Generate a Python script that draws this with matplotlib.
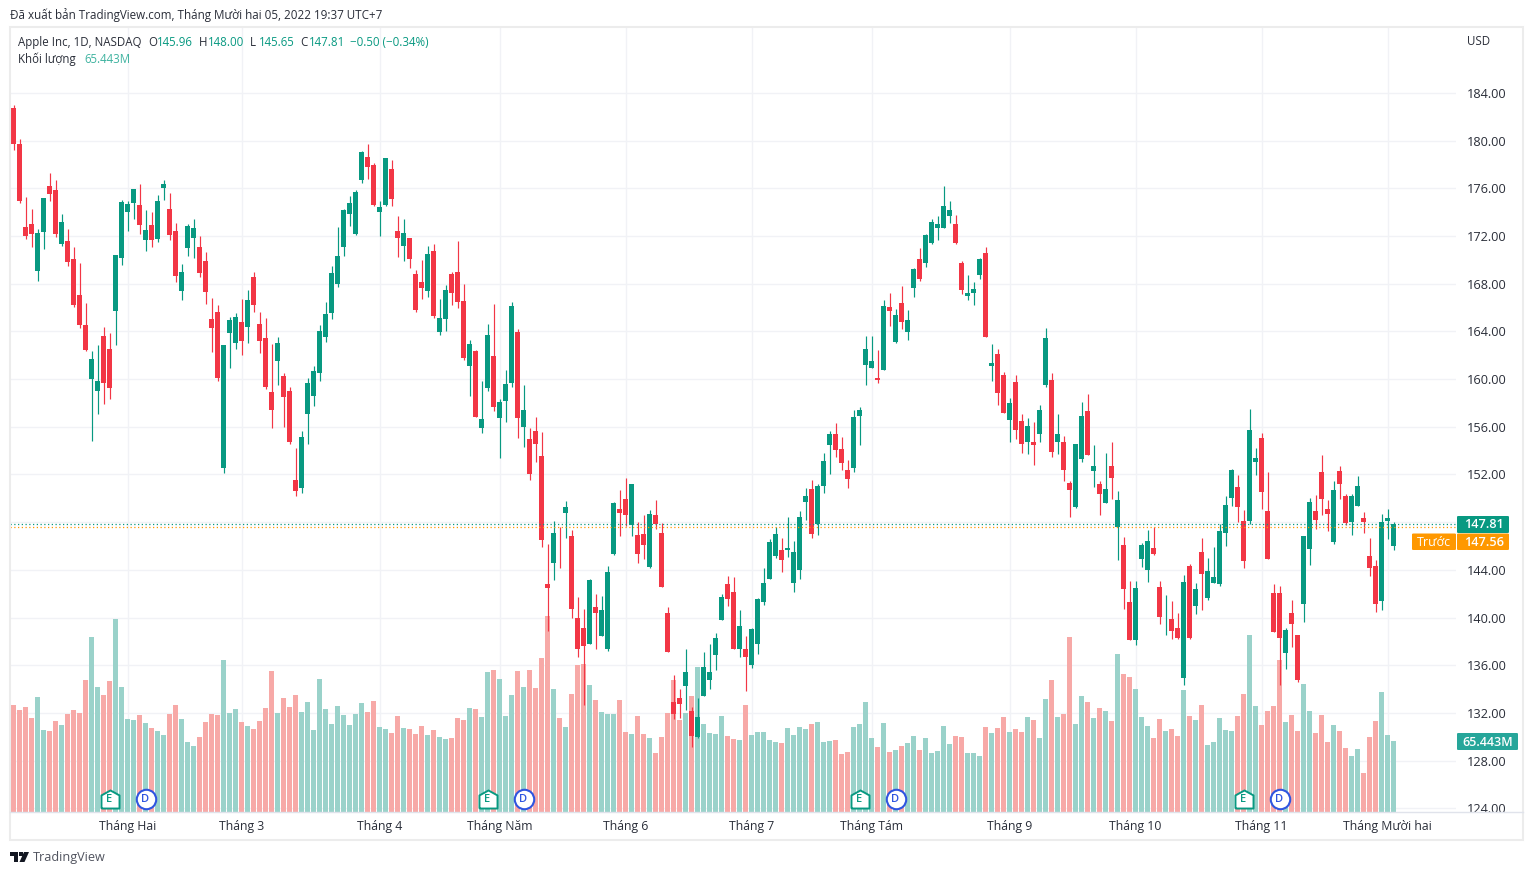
import matplotlib
matplotlib.use('Agg')
import matplotlib.pyplot as plt
from matplotlib.patches import Rectangle, Polygon, FancyBboxPatch
from matplotlib.path import Path
from matplotlib.transforms import blended_transform_factory
import numpy as np

plt.rcParams['font.family'] = ['Open Sans', 'Noto Sans', 'DejaVu Sans']

# AAPL daily candles
opens = [182.69,179.67,172.72,172.97,169.06,172.32,176.15,175.82,171.32,171.54,
170.03,167.02,164.5,160.0,158.97,163.58,162.49,165.7,170.15,174.0,
174.75,174.56,171.65,172.88,171.74,175.98,174.22,172.38,167.38,170.98,
171.82,171.04,169.87,165.0,165.59,152.55,163.86,163.0,164.75,164.33,
168.53,164.59,163.41,158.89,161.49,160.23,158.97,151.51,150.82,157.04,
158.55,160.48,163.5,165.51,167.94,171.05,173.82,172.14,176.67,178.6,
177.93,173.99,174.57,177.59,172.39,171.13,171.8,168.78,168.11,167.36,
170.71,163.92,165.01,168.78,168.95,166.52,161.06,162.32,155.86,159.22,
161.9,156.7,158.13,159.64,163.92,155.94,154.94,155.61,153.51,142.85,
144.53,145.6,148.8,146.87,139.92,139.16,137.74,140.84,138.41,137.32,
145.36,149.13,149.97,147.79,146.96,147.04,144.27,148.63,147.12,140.34,
132.88,133.21,134.22,132.12,129.94,133.38,134.72,136.82,139.83,142.77,
142.18,137.4,137.32,135.98,137.74,141.34,143.27,145.2,145.7,145.7,
142.93,144.02,149.72,150.81,147.88,151.06,154.43,155.43,154.09,152.33,
152.5,156.94,161.21,160.96,160.12,160.79,166.06,163.13,166.4,163.97,
167.66,170.08,169.75,171.42,172.68,172.68,173.68,173.01,169.75,166.99,
167.24,168.74,170.59,161.12,162.13,160.37,156.6,159.78,156.51,154.76,
154.68,155.43,159.53,159.95,154.76,154.68,151.24,149.24,153.32,157.34,
152.31,151.22,149.63,152.73,147.62,146.11,141.33,138.14,144.94,144.01,
145.86,142.59,140.35,139.9,139.15,134.96,144.35,141.0,145.52,141.67,
142.92,142.84,147.12,150.05,150.97,148.12,148.12,153.07,155.08,148.96,
142.08,142.08,137.05,140.41,138.56,141.16,145.77,148.96,152.19,149.11,
146.36,152.28,150.19,148.03,149.36,148.36,145.19,144.36,141.36,148.11,
145.96]

highs = [182.94,180.15,175.28,174.22,172.55,175.2,177.24,176.65,173.8,172.55,
171.09,169.7,166.35,162.32,162.83,164.39,163.89,170.37,175.03,174.92,
175.9,176.32,174.14,173.97,175.4,176.65,175.56,173.11,169.61,172.97,
173.39,171.96,170.62,166.77,166.18,162.85,165.17,165.5,166.68,167.44,
168.94,165.59,165.09,162.91,163.5,160.48,159.31,154.2,155.61,160.06,
161.06,164.5,166.43,169.45,172.73,174.24,175.33,175.83,179.1,179.69,
178.1,174.91,178.52,178.35,173.65,173.4,171.8,169.12,169.96,171.13,
171.3,166.69,167.86,168.95,171.55,167.94,163.24,162.4,159.8,164.59,
166.27,158.29,160.73,166.49,164.17,159.47,155.86,156.78,155.52,146.17,
148.1,147.6,149.8,147.37,141.68,140.75,143.26,142.01,141.84,144.36,
149.72,150.73,151.73,151.23,148.04,148.63,149.05,149.89,147.96,140.84,
135.22,133.97,137.4,132.46,133.21,137.07,137.82,138.66,141.93,143.52,
143.43,140.67,138.41,139.08,141.65,144.19,146.62,147.63,146.7,148.46,
146.45,148.97,150.89,151.56,151.23,153.76,155.6,156.35,155.1,153.17,
157.36,157.69,163.64,163.64,162.46,166.65,167.24,165.9,167.82,165.81,
169.33,171.0,172.18,173.43,173.68,176.2,174.94,173.77,169.92,168.74,
168.16,170.17,171.09,162.97,162.55,160.62,158.44,160.37,157.1,156.69,
156.43,157.85,164.31,160.54,157.1,155.26,151.41,154.59,158.1,158.77,
154.49,151.48,153.82,154.75,150.64,146.78,143.09,143.09,146.25,147.37,
147.62,143.09,141.92,141.41,140.41,143.59,144.52,142.92,146.7,145.02,
145.94,147.87,150.22,152.48,151.98,149.04,157.51,154.24,155.5,152.23,
142.84,142.67,139.15,141.5,138.56,146.86,150.03,150.3,153.61,149.86,
151.44,152.69,150.36,150.36,151.86,148.86,146.69,144.86,148.69,149.11,
148.0]

lows = [179.17,174.75,171.71,171.04,168.19,170.87,174.92,171.91,171.15,169.47,
166.04,164.28,162.35,154.81,157.04,157.88,158.3,162.83,169.56,172.41,
173.39,172.13,170.7,171.04,171.46,174.98,171.63,168.11,166.6,170.31,
170.12,168.53,166.26,162.24,159.84,152.1,160.9,162.49,161.99,163.0,
165.59,162.16,159.14,155.87,159.47,156.01,154.53,150.2,150.43,154.52,
157.71,159.8,163.08,165.01,167.69,170.29,172.81,172.06,176.42,176.76,
174.49,171.97,174.49,174.49,170.21,169.87,169.29,165.59,166.69,166.85,
165.09,163.66,164.0,166.18,165.93,161.57,158.55,156.78,155.44,158.97,
157.29,153.34,156.36,159.3,155.02,154.27,151.49,153.01,145.88,138.83,
143.18,144.19,146.7,139.92,136.65,132.63,137.74,137.4,138.41,137.15,
145.28,146.87,147.71,146.87,144.53,144.94,144.11,147.46,142.6,137.07,
131.45,131.54,132.21,129.11,129.86,133.38,133.97,135.64,139.83,141.0,
137.4,136.73,133.8,135.73,136.98,141.09,143.27,145.03,143.85,145.11,
142.18,143.27,148.21,146.7,146.96,150.41,152.0,153.42,152.33,150.83,
152.17,154.43,159.53,160.9,159.7,160.79,164.47,163.05,164.22,163.3,
166.9,168.24,169.41,171.34,171.67,172.68,173.1,171.34,167.15,166.65,
166.23,168.41,163.55,159.87,157.78,157.19,154.68,155.01,153.76,153.67,
152.75,154.76,159.37,153.42,153.67,151.41,148.4,149.15,153.07,153.66,
150.97,148.62,149.63,149.97,144.85,140.74,138.14,137.72,144.26,143.01,
145.27,139.49,138.56,138.23,138.23,134.37,138.23,140.32,140.66,141.5,
142.92,142.67,146.03,149.38,148.04,144.18,147.87,151.98,149.13,144.94,
138.81,134.37,135.71,137.56,134.62,139.6,144.44,147.45,148.61,147.28,
146.19,149.94,147.78,146.94,149.36,147.11,143.44,140.44,140.61,146.61,
145.65]

closes = [179.67,174.92,171.99,172.16,172.21,175.15,175.51,172.16,173.13,169.81,
166.18,164.5,162.41,161.65,159.81,159.67,159.25,170.37,174.81,174.64,
175.9,172.91,172.46,171.65,174.89,176.32,172.07,168.64,168.94,172.8,
172.63,168.89,167.3,164.25,160.09,162.83,164.92,165.17,163.16,166.6,
166.18,163.16,159.31,157.38,163.0,158.47,154.7,150.59,155.1,159.64,
160.64,164.0,165.43,168.87,170.29,174.15,174.74,175.66,179.02,177.76,
174.57,174.41,178.52,175.08,171.8,172.22,170.04,165.76,167.61,170.46,
165.26,165.09,167.44,167.19,166.43,161.73,162.91,156.78,156.62,163.66,
157.62,158.04,159.55,166.1,156.7,157.37,152.0,154.52,146.46,142.51,
147.12,145.56,149.3,140.75,137.32,137.6,143.18,140.34,140.59,143.85,
149.64,148.8,148.63,151.23,145.36,146.12,148.72,147.88,142.6,137.07,
131.87,132.71,135.47,130.03,131.62,135.89,135.39,138.32,141.68,141.59,
137.4,139.25,136.65,139.0,141.59,142.93,146.37,147.04,144.86,145.84,
145.53,148.46,150.22,147.04,151.06,153.09,155.43,154.01,152.92,151.58,
156.85,157.36,162.55,161.54,159.95,166.15,165.73,165.39,164.81,164.98,
169.25,168.41,172.09,173.18,173.01,174.52,174.19,171.42,167.49,167.24,
167.57,170.08,163.55,161.38,158.86,157.19,158.03,155.76,154.51,156.02,
154.43,157.44,163.47,153.84,155.35,152.33,150.66,154.51,156.93,153.66,
152.73,150.39,150.8,151.73,149.88,142.42,138.14,142.5,146.11,146.44,
145.36,140.07,140.41,138.9,138.31,143.01,138.31,142.42,143.68,143.93,
143.43,147.28,149.46,152.4,149.3,144.77,155.75,153.4,150.55,144.94,
138.81,138.31,138.98,139.49,134.79,146.86,149.69,148.2,149.94,148.69,
150.69,151.19,147.94,150.19,151.03,148.03,144.19,141.11,148.03,148.36,
147.81]

# volume in millions
volumes = [98.9,94.3,97.1,86.9,106.3,75.9,75.0,84.2,80.5,90.6,
94.3,91.5,122.0,161.6,115.5,108.1,121.0,178.2,115.5,86.0,
85.1,89.7,82.3,77.7,75.0,71.3,90.6,98.9,86.0,64.8,
61.1,69.4,83.3,90.6,89.7,140.4,91.5,95.2,83.3,79.6,
76.8,84.2,96.2,130.3,91.5,105.4,97.1,108.1,92.5,101.7,
75.9,122.9,95.2,81.4,98.0,89.7,80.5,90.6,100.8,92.5,
102.6,78.6,76.8,73.1,88.8,77.7,76.8,72.2,79.6,71.3,
75.9,69.4,67.6,68.5,86.9,85.1,96.2,95.2,87.9,129.3,
131.2,122.9,88.8,108.1,130.3,115.5,131.2,114.6,142.2,180.9,
113.7,86.9,78.6,109.1,135.8,136.7,117.4,103.5,92.5,90.6,
90.6,103.5,74.0,72.2,88.8,72.2,68.5,54.7,69.4,91.5,
122.0,85.1,91.5,107.2,133.9,81.4,73.1,72.2,88.8,70.3,
67.6,66.7,98.9,71.3,74.0,74.0,66.7,64.8,63.9,77.7,
71.3,78.6,76.8,81.4,83.3,64.8,65.7,66.7,53.8,55.6,
78.6,81.4,101.7,68.5,60.2,82.3,55.6,57.4,61.1,63.9,
70.3,57.4,68.5,54.7,56.5,79.6,63.0,70.3,69.4,54.7,
54.7,51.9,78.6,73.1,77.7,87.9,74.0,76.8,74.0,87.9,
85.1,68.5,104.4,122.0,87.9,90.6,161.6,81.4,107.2,101.7,
86.9,96.2,93.4,84.2,145.9,127.5,124.7,113.7,87.9,79.6,
68.5,86.0,75.0,76.8,70.3,112.7,88.8,85.1,98.9,62.1,
64.8,86.9,75.9,75.0,88.8,109.1,163.4,98.0,80.5,93.4,
98.0,140.4,83.3,89.7,75.0,118.3,93.4,73.1,89.7,64.8,
80.5,75.0,59.3,51.9,58.4,36.2,69.4,84.2,110.9,71.3,
65.443]

month_idx = [19, 38, 61, 81, 102, 123, 143, 166, 187, 208, 229]
month_labels = ['Tháng Hai', 'Tháng 3', 'Tháng 4', 'Tháng Năm', 'Tháng 6', 'Tháng 7',
                'Tháng Tám', 'Tháng 9', 'Tháng 10', 'Tháng 11', 'Tháng Mười hai']
price_ticks = [124, 128, 132, 136, 140, 144, 148, 152, 156, 160, 164, 168, 172, 176, 180, 184]
earnings_idx = [16, 79, 141, 205]
dividend_idx = [22, 85, 147, 211]
last_close = 147.81
prev_close = 147.56

GREEN = '#089981'
RED = '#F23645'
GRID = '#f1f2f6'
TEXT = '#2a2e39'
W, H = 1533, 875
BAR_W = 5 / 6  # 5 px body on a 6 px step


def fx(x):
    return x / W


def fy(y):
    return 1 - y / H


fig = plt.figure(figsize=(W / 100, H / 100), dpi=100, facecolor='white')
rect = [fx(10), fy(812), fx(1456) - fx(10), fy(27) - fy(812)]

ax = fig.add_axes(rect, zorder=1)
ax_vol = fig.add_axes(rect, zorder=2, sharex=ax)
ax_c = fig.add_axes(rect, zorder=3, sharex=ax)
ax_vol.patch.set_visible(False)
ax_c.patch.set_visible(False)

# candle 0 is centred on pixel column 13
ax.set_xlim(-3.5 / 6, 1442.5 / 6)
ax.set_ylim(123.69, 189.52)
ax_c.set_ylim(123.69, 189.52)
ax_vol.set_ylim(0, 723.5)

x = np.arange(len(opens))
opens_a = np.array(opens)
closes_a = np.array(closes)
up = closes_a >= opens_a
colors = np.where(up, GREEN, RED)

# volume
vol_colors = np.where(up, '#9AD2CA', '#F7A9A7')
ax_vol.bar(x, volumes, width=BAR_W, color=vol_colors, linewidth=0)

# candles
ax_c.vlines(x, lows, highs, colors=colors, linewidth=0.85)
body_bottom = np.minimum(opens_a, closes_a)
body_height = np.maximum(np.abs(closes_a - opens_a), 0.05)
ax_c.bar(x, body_height, bottom=body_bottom, width=BAR_W, color=colors, linewidth=0)

# last price and previous close lines
ax_c.axhline(last_close, color=GREEN, linewidth=0.9, linestyle=(0, (1, 2)), zorder=5)
ax_c.axhline(prev_close, color='#FF9800', linewidth=0.9, linestyle=(0, (1, 2)), zorder=5)

ax.set_yticks(price_ticks)
# 148.00 sits behind the last price badge
ax.set_yticklabels(['' if p == 148 else '%.2f' % p for p in price_ticks])
ax.yaxis.tick_right()
ax.set_xticks(month_idx)
ax.set_xticklabels(month_labels)
ax.tick_params(axis='both', length=0, labelcolor=TEXT)
ax.tick_params(axis='y', pad=7.9, labelsize=9.2)
ax.tick_params(axis='x', pad=6, labelsize=8.8)
ax.grid(True, color=GRID, linewidth=1)
ax.set_axisbelow(True)
for spine in ax.spines.values():
    spine.set_visible(False)

for a in (ax_vol, ax_c):
    a.axis('off')

# E / D event badges
tr = blended_transform_factory(ax_c.transData, ax_c.transAxes)
house = Path([(-1, -1), (1, -1), (1, 0.45), (0, 1), (-1, 0.45), (-1, -1)], closed=False)
badge_y = (812 - 799.3) / 785
for i in earnings_idx:
    ax_c.plot([i], [badge_y], transform=tr, marker=house, markersize=13, mfc='white',
              mec=GREEN, mew=1.4, clip_on=False, zorder=6)
    ax_c.text(i, badge_y, 'E', transform=tr, color=GREEN, fontsize=8, ha='center', va='center',
              zorder=7, fontweight='semibold')
for i in dividend_idx:
    ax_c.plot([i], [badge_y], transform=tr, marker='o', markersize=14, mfc='white',
              mec='#2F55E0', mew=1.5, clip_on=False, zorder=6)
    ax_c.text(i, badge_y, 'D', transform=tr, color='#2F55E0', fontsize=8, ha='center', va='center',
              zorder=7, fontweight='semibold')


# everything below sits in pixel positions on the figure
def ftext(px, py, s, color=TEXT, size=9, ha='left', **kw):
    fig.text(fx(px), fy(py), s, color=color, fontsize=size, ha=ha, va='center', zorder=20, **kw)


def box(x0, y0, x1, y1, color):
    fig.add_artist(FancyBboxPatch((fx(x0), fy(y1)), fx(x1) - fx(x0), fy(y0) - fy(y1),
                                  boxstyle='round,pad=0,rounding_size=0.001', transform=fig.transFigure,
                                  fc=color, ec='none', zorder=15))


# chart frame and time axis line
fig.add_artist(Rectangle((fx(10), fy(840)), fx(1523) - fx(10), fy(27) - fy(840), transform=fig.transFigure,
                         fc='none', ec='#ececec', lw=1.5, zorder=10))
fig.add_artist(plt.Line2D([fx(10), fx(1523)], [fy(812), fy(812)], color='#e0e3eb', lw=1, zorder=10))

ftext(10, 15, 'Đã xuất bản TradingView.com, Tháng Mười hai 05, 2022 19:37 UTC+7', size=8.35)
ftext(18, 42.5, 'Apple Inc, 1D, NASDAQ', size=8.3)
for px, label, val in [(148, 'O', '145.96'), (199, 'H', '148.00'), (250, 'L', '145.65'), (300, 'C', '147.81')]:
    ftext(px, 42.5, label, size=8.3)
    ftext(px + 9, 42.5, val, color=GREEN, size=8.3)
ftext(350, 42.5, '−0.50 (−0.34%)', color=GREEN, size=8.3)
ftext(18, 59.5, 'Khối lượng', size=8.3)
ftext(84, 59.5, '65.443M', color='#3FB3A0', size=8.3)
ftext(1467, 41.5, 'USD', size=8.3)

box(1457, 516, 1509, 533, GREEN)
ftext(1484, 525, '147.81', color='white', ha='center', fontweight='semibold', size=9.2)
box(1412, 533.5, 1456, 550, '#FF9800')
ftext(1434, 542.5, 'Trước', color='white', ha='center')
box(1457, 533.5, 1509, 550, '#FF9800')
ftext(1484, 542, '147.56', color='white', ha='center', fontweight='semibold', size=9.2)
box(1457, 733, 1518, 750, '#26A69A')
ftext(1488, 742, '65.443M', color='white', ha='center', fontweight='semibold')

# TradingView logo
logo = '#131722'
pts = [[(10, 852), (18, 852), (18, 862), (14, 862), (14, 856), (10, 856)],
       [(24, 852), (29, 852), (24.5, 862), (19.5, 862)],
       [(19, 852), (22.5, 852), (22.5, 856), (19, 856)]]
for p in pts:
    fig.add_artist(Polygon([(fx(a), fy(b)) for a, b in p], closed=True, transform=fig.transFigure,
                           fc=logo, ec='none', zorder=15))
ftext(33, 858, 'TradingView', color='#50535e', size=9.1)

fig.savefig('out.png', dpi=100)
